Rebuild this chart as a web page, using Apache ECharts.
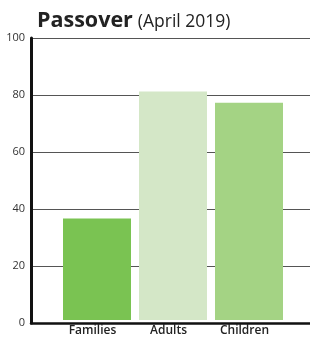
<!DOCTYPE html>
<html>
<head>
    <meta charset="utf-8"/>
    <title>Passover</title>
    <script src="https://cdn.jsdelivr.net/npm/echarts@6/dist/echarts.min.js"></script>
    <style>
        html, body { margin: 0; padding: 0; background: #fff; }
    </style>
</head>
<body>
<div id="main" style="width: 310px; height: 337px"></div>
<script type="text/javascript">
    // data
    var categories = ['Families', 'Adults', 'Children'];
    var values = [36, 81, 77];
    var barColors = ['#7ac352', '#d4e7c7', '#a4d384'];
    var yTicks = [0, 20, 40, 60, 80, 100];

    var myChart = echarts.init(document.getElementById('main'));

    var option = {
        animation: false,
        title: {
            text: '{b|Passover} {r|(April 2019)}',
            left: 32,
            top: 5,
            textStyle: {
                rich: {
                    b: { fontFamily: 'Open Sans', fontWeight: 'bold', fontSize: 21.5, color: '#222' },
                    r: { fontFamily: 'Open Sans', fontWeight: 'normal', fontSize: 17.5, color: '#222', padding: [2, 0, 0, 0] }
                }
            }
        },
        grid: [
            // frame: axis lines and gridlines across the whole width
            { left: 31, right: 0, top: 38, bottom: 14 },
            // bars sit in a narrower band
            { left: 59, right: 23, top: 38, bottom: 14 }
        ],
        xAxis: [
            {
                gridIndex: 0,
                type: 'value',
                min: 0,
                max: 1,
                axisLine: { show: true, onZero: false, lineStyle: { color: '#111', width: 2.5 } },
                axisTick: { show: false },
                axisLabel: { show: false },
                splitLine: { show: false }
            },
            {
                gridIndex: 1,
                type: 'category',
                data: categories,
                axisLine: { show: false },
                axisTick: { show: false },
                axisLabel: {
                    margin: 5,
                    fontFamily: 'Open Sans',
                    fontWeight: 600,
                    fontSize: 12,
                    color: '#222',
                    padding: [0, 9, 0, 0]
                }
            }
        ],
        yAxis: [
            {
                gridIndex: 0,
                type: 'value',
                min: yTicks[0],
                max: yTicks[yTicks.length - 1],
                interval: 20,
                axisLine: { show: true, lineStyle: { color: '#111', width: 3 } },
                axisTick: { show: false },
                axisLabel: {
                    margin: 6,
                    fontFamily: 'Open Sans',
                    fontSize: 11,
                    color: '#333'
                },
                splitLine: { show: true, lineStyle: { color: '#555', width: 1 } }
            },
            {
                gridIndex: 1,
                type: 'value',
                min: yTicks[0],
                max: yTicks[yTicks.length - 1],
                show: false
            }
        ],
        series: [
            {
                type: 'bar',
                xAxisIndex: 1,
                yAxisIndex: 1,
                barWidth: 68,
                data: values.map(function (v, i) {
                    return { value: v, itemStyle: { color: barColors[i] } };
                })
            }
        ]
    };

    myChart.setOption(option);
</script>
</body>
</html>
